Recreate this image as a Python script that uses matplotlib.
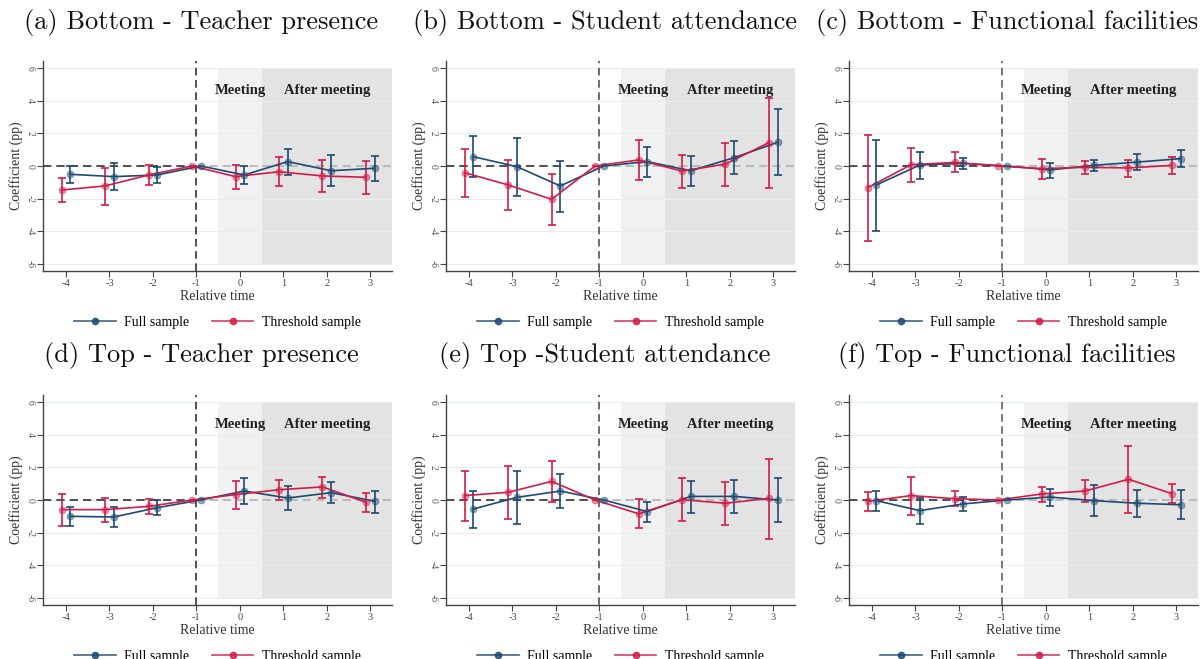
import numpy as np
import matplotlib
matplotlib.use("Agg")
import matplotlib.pyplot as plt
from matplotlib.lines import Line2D

rel_time = [-4, -3, -2, -1, 0, 1, 2, 3]
y_ticks = [-6, -4, -2, 0, 2, 4, 6]
y_tick_labels = ["-6", "-4", "-2", "0", "2", "4", "6"]
x_tick_labels = ["-4", "-3", "-2", "-1", "0", "1", "2", "3"]

titles = ["(a) Bottom - Teacher presence", "(b) Bottom - Student attendance",
          "(c) Bottom - Functional facilities", "(d) Top - Teacher presence",
          "(e) Top -Student attendance", "(f) Top - Functional facilities"]
series_names = ["Full sample", "Threshold sample"]
nan = float("nan")

# Panel (a)
a_full = [-0.51, -0.65, -0.55, 0.0, -0.55, 0.27, -0.29, -0.14]
a_full_lo = [-1.02, -1.47, -1.06, nan, -1.12, -0.55, -1.22, -0.92]
a_full_hi = [0.0, 0.16, -0.08, nan, 0.0, 1.04, 0.65, 0.61]
a_thr = [-1.47, -1.22, -0.55, 0.0, -0.65, -0.35, -0.61, -0.69]
a_thr_lo = [-2.22, -2.39, -1.16, nan, -1.39, -1.20, -1.61, -1.73]
a_thr_hi = [-0.71, -0.14, 0.06, nan, 0.08, 0.53, 0.39, 0.31]

# Panel (b)
b_full = [0.57, -0.04, -1.22, 0.0, 0.27, -0.29, 0.51, 1.45]
b_full_lo = [-0.65, -1.82, -2.80, nan, -0.65, -1.24, -0.49, -0.57]
b_full_hi = [1.82, 1.71, 0.33, nan, 1.18, 0.63, 1.51, 3.49]
b_thr = [-0.41, -1.16, -2.04, 0.0, 0.37, -0.31, 0.12, 1.43]
b_thr_lo = [-1.92, -2.69, -3.59, nan, -0.88, -1.35, -1.22, -1.33]
b_thr_hi = [1.06, 0.37, -0.49, nan, 1.59, 0.69, 1.43, 4.18]

# Panel (c)
c_full = [-1.16, 0.06, 0.16, 0.0, -0.24, 0.04, 0.24, 0.45]
c_full_lo = [-3.96, -0.80, -0.20, nan, -0.76, -0.31, -0.24, -0.08]
c_full_hi = [1.59, 0.88, 0.51, nan, 0.16, 0.37, 0.71, 1.00]
c_thr = [-1.33, 0.08, 0.22, 0.0, -0.16, -0.08, -0.12, 0.04]
c_thr_lo = [-4.59, -0.96, -0.39, nan, -0.80, -0.49, -0.67, -0.49]
c_thr_hi = [1.88, 1.08, 0.84, nan, 0.45, 0.33, 0.37, 0.55]

# Panel (d)
d_full = [-1.00, -1.04, -0.47, 0.0, 0.55, 0.12, 0.45, -0.08]
d_full_lo = [-1.61, -1.67, -0.94, nan, -0.24, -0.61, -0.16, -0.78]
d_full_hi = [-0.43, -0.43, 0.0, nan, 1.33, 0.86, 1.12, 0.57]
d_thr = [-0.59, -0.59, -0.39, 0.0, 0.33, 0.63, 0.80, -0.14]
d_thr_lo = [-1.57, -1.33, -0.84, nan, -0.55, 0.0, 0.14, -0.71]
d_thr_hi = [0.39, 0.10, 0.06, nan, 1.18, 1.24, 1.39, 0.45]

# Panel (e)
e_full = [-0.55, 0.16, 0.55, 0.0, -0.71, 0.22, 0.22, 0.0]
e_full_lo = [-1.69, -1.45, -0.47, nan, -1.33, -0.80, -0.80, -1.35]
e_full_hi = [0.57, 1.78, 1.57, nan, -0.10, 1.18, 1.20, 1.35]
e_thr = [0.27, 0.47, 1.14, 0.0, -0.84, 0.02, -0.20, 0.10]
e_thr_lo = [-1.27, -1.18, -0.10, nan, -1.71, -1.31, -1.51, -2.37]
e_thr_hi = [1.78, 2.10, 2.41, nan, 0.04, 1.35, 1.10, 2.51]

# Panel (f)
f_full = [-0.04, -0.65, -0.24, 0.0, 0.18, -0.04, -0.20, -0.29]
f_full_lo = [-0.69, -1.47, -0.69, nan, -0.35, -0.98, -1.02, -1.18]
f_full_hi = [0.57, 0.14, 0.18, nan, 0.67, 0.90, 0.63, 0.59]
f_thr = [-0.08, 0.27, 0.08, 0.0, 0.37, 0.55, 1.27, 0.39]
f_thr_lo = [-0.65, -0.92, -0.39, nan, -0.10, -0.14, -0.80, -0.18]
f_thr_hi = [0.47, 1.41, 0.55, nan, 0.82, 1.24, 3.31, 0.96]

panels = [
    (a_full, a_full_lo, a_full_hi, a_thr, a_thr_lo, a_thr_hi),
    (b_full, b_full_lo, b_full_hi, b_thr, b_thr_lo, b_thr_hi),
    (c_full, c_full_lo, c_full_hi, c_thr, c_thr_lo, c_thr_hi),
    (d_full, d_full_lo, d_full_hi, d_thr, d_thr_lo, d_thr_hi),
    (e_full, e_full_lo, e_full_hi, e_thr, e_thr_lo, e_thr_hi),
    (f_full, f_full_lo, f_full_hi, f_thr, f_thr_lo, f_thr_hi),
]

NAVY = "#1d4a72"
RED = "#d01c48"
SERIF = ["Liberation Serif", "DejaVu Serif"]
W, H = 1200, 659

fig = plt.figure(figsize=(12, 6.59), dpi=100)

lefts_px = [43, 446, 849]
tops_px = [61, 395]
ax_w_px, ax_h_px = 349, 210
title_x_px = [201, 605, 1007]
title_y_px = [22, 356]
vline_colors = ["#222222", "#444444", "#555555", "#222222", "#444444", "#555555"]

def draw_series(ax, x, coef, lo, hi, color):
    x = np.asarray(x, float)
    coef = np.asarray(coef, float)
    lo = np.asarray(lo, float)
    hi = np.asarray(hi, float)
    ok = ~np.isnan(lo)
    ax.errorbar(x[ok], coef[ok], yerr=[coef[ok] - lo[ok], hi[ok] - coef[ok]],
                fmt="none", ecolor=color, elinewidth=1.2, capsize=3, capthick=1.2,
                zorder=3)
    ax.plot(x, coef, color=color, lw=1.2, zorder=4)
    ax.plot(x, coef, "o", color=color, ms=5, alpha=0.5, mec=color, mew=0.5, zorder=5)

for i, data in enumerate(panels):
    r, c = divmod(i, 3)
    left = lefts_px[c] / W
    bottom = 1 - (tops_px[r] + ax_h_px) / H
    ax = fig.add_axes([left, bottom, ax_w_px / W, ax_h_px / H])
    ax.set_xlim(-4.53, 3.5)
    ax.set_ylim(-6.43, 6.43)

    ax.fill_between([-0.5, 0.5], -6, 6, color="#f1f1f1", lw=0, zorder=0)
    ax.fill_between([0.5, 3.5], -6, 6, color="#e3e3e3", lw=0, zorder=0)
    for yv in y_ticks:
        ax.axhline(yv, color="#e6eef0", lw=0.8, zorder=0.5)

    ax.plot([-4.53, -1], [0, 0], ls=(0, (5, 3)), color="#333333", lw=1.2, zorder=1)
    ax.plot([-1, 3.5], [0, 0], ls=(0, (5, 3)), color="#b0b0b0", lw=1.2, zorder=1)
    ax.axvline(-1, ls=(0, (5, 3)), color=vline_colors[i], lw=1.1, zorder=1)

    full, full_lo, full_hi, thr, thr_lo, thr_hi = data
    xs = np.asarray(rel_time, float)
    draw_series(ax, xs + 0.1, full, full_lo, full_hi, NAVY)
    draw_series(ax, xs - 0.1, thr, thr_lo, thr_hi, RED)

    ax.text(0.0, 4.6, "Meeting", ha="center", va="center", fontsize=10.5,
            fontweight="bold", family=SERIF, color="#222222", zorder=6)
    ax.text(2.0, 4.6, "After meeting", ha="center", va="center", fontsize=10.5,
            fontweight="bold", family=SERIF, color="#222222", zorder=6)

    for s in ["top", "right"]:
        ax.spines[s].set_visible(False)
    for s in ["left", "bottom"]:
        ax.spines[s].set_color("#444444")
        ax.spines[s].set_linewidth(1.0)

    ax.set_yticks(y_ticks)
    ax.set_yticklabels(y_tick_labels, rotation=-90, va="center",
                       fontsize=7, color="#555555", family=SERIF)
    ax.set_xticks(rel_time)
    ax.set_xticklabels(x_tick_labels, fontsize=7.5, color="#444444", family=SERIF)
    ax.tick_params(axis="both", length=4, width=0.8, color="#444444", pad=2)
    ax.set_xlabel("Relative time", fontsize=10, family=SERIF, color="#333333", labelpad=1)
    ax.set_ylabel("Coefficient (pp)", fontsize=10, family=SERIF, color="#333333", labelpad=2)

    handles = [Line2D([0], [0], color=NAVY, lw=1.2, marker="o", ms=4.5,
                      mfc=NAVY, mec=NAVY, alpha=0.85),
               Line2D([0], [0], color=RED, lw=1.2, marker="o", ms=4.5,
                      mfc=RED, mec=RED, alpha=0.85)]
    ax.legend(handles, series_names, loc="upper center",
              bbox_to_anchor=(0.5, -0.155), ncol=2, frameon=False,
              prop={"family": SERIF, "size": 10}, handlelength=3.0,
              columnspacing=1.6, handletextpad=0.6, numpoints=1)

    fig.text(title_x_px[c] / W, 1 - title_y_px[r] / H, titles[i],
             ha="center", va="center", fontsize=19, family="cmr10", color="#111111")

fig.savefig("out.png", dpi=100)
